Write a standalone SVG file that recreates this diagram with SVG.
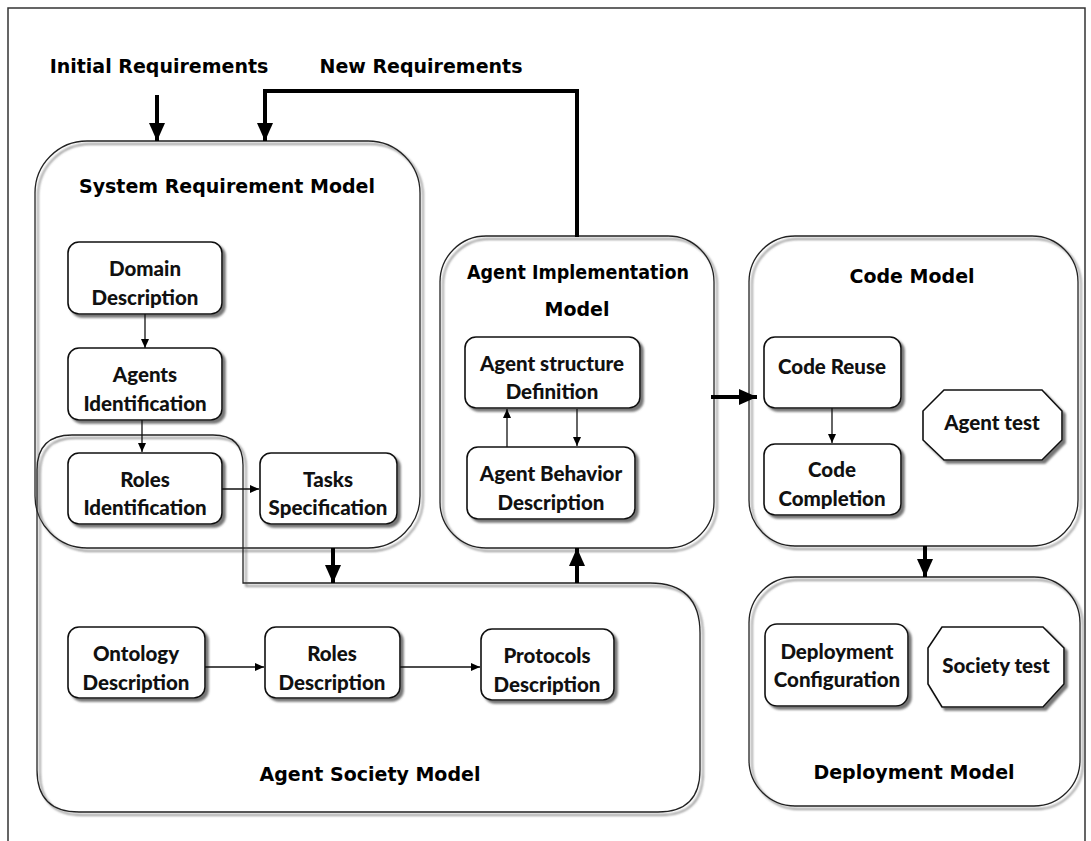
<svg xmlns="http://www.w3.org/2000/svg" width="1091" height="841" viewBox="0 0 1091 841">
<style>
.frame{fill:none;stroke:#333;stroke-width:1.5}
.cont{fill:none;stroke:#222;stroke-width:1.3;filter:url(#sh)}
.box{fill:#fff;stroke:#111;stroke-width:1.6;filter:url(#sh)}
.title{font-family:"Comic Sans MS","DejaVu Sans",sans-serif;font-weight:bold;font-size:19px;fill:#000;text-anchor:middle}
.lbl{font-family:Lato,"Liberation Sans",sans-serif;font-weight:900;font-size:20.5px;fill:#111;text-anchor:middle}
.thin{fill:none;stroke:#111;stroke-width:1.3}
.thick{fill:none;stroke:#000;stroke-width:4}
</style>
<defs>
<filter id="sh" x="-10%" y="-10%" width="125%" height="125%">
<feDropShadow dx="3" dy="3" stdDeviation="1" flood-color="#666" flood-opacity="0.9"/>
</filter>
<marker id="ah" markerWidth="10" markerHeight="10" refX="9" refY="5" orient="auto" markerUnits="userSpaceOnUse">
<path d="M0,1 L9,5 L0,9 Z" fill="#000"/>
</marker>
<marker id="ahb" markerWidth="20" markerHeight="20" refX="18" refY="10" orient="auto" markerUnits="userSpaceOnUse">
<path d="M0,2 L18,10 L0,18 Z" fill="#000"/>
</marker>
</defs>
<rect width="1091" height="841" fill="#fff"/>
<path class="frame" d="M8,841 V8 H1085 V841"/>

<text class="title" x="159" y="73" font-size="21">Initial Requirements</text>
<text class="title" x="421" y="73" font-size="21">New Requirements</text>

<g id="system-requirement-model">
<rect class="cont" x="35" y="141" width="385" height="407" rx="52"/>
<text class="title" x="227" y="193">System Requirement Model</text>
</g>
<g id="agent-society-model">
<path class="cont" d="M243,583 H650 Q700,583 700,633 V770 Q700,812 658,812 H79 Q37,812 37,770 V470 Q37,435 72,435 H213 Q243,435 243,465 Z"/>
<text class="title" x="370" y="781">Agent Society Model</text>
</g>
<g id="agent-implementation-model">
<rect class="cont" x="440" y="236" width="274" height="312" rx="46"/>
<text class="title" x="578" y="279" textLength="222" lengthAdjust="spacingAndGlyphs">Agent Implementation</text>
<text class="title" x="577" y="316">Model</text>
</g>
<g id="code-model">
<rect class="cont" x="749" y="236" width="329" height="310" rx="46"/>
<text class="title" x="912" y="283">Code Model</text>
</g>
<g id="deployment-model">
<rect class="cont" x="749" y="577" width="331" height="229" rx="46"/>
<text class="title" x="914" y="779">Deployment Model</text>
</g>

<g id="domain-description">
<rect class="box" x="68" y="242" width="154" height="72" rx="11"/>
<text class="lbl" x="145" y="276">Domain</text>
<text class="lbl" x="145" y="305">Description</text>
</g>
<g id="agents-identification">
<rect class="box" x="68" y="348" width="154" height="72" rx="11"/>
<text class="lbl" x="145" y="382">Agents</text>
<text class="lbl" x="145" y="411">Identification</text>
</g>
<g id="roles-identification">
<rect class="box" x="68" y="453" width="154" height="71" rx="11"/>
<text class="lbl" x="145" y="487">Roles</text>
<text class="lbl" x="145" y="515">Identification</text>
</g>
<g id="tasks-specification">
<rect class="box" x="260" y="453" width="137" height="71" rx="11"/>
<text class="lbl" x="328" y="487">Tasks</text>
<text class="lbl" x="328" y="515">Specification</text>
</g>
<g id="ontology-description">
<rect class="box" x="68" y="627" width="137" height="71" rx="11"/>
<text class="lbl" x="136" y="661">Ontology</text>
<text class="lbl" x="136" y="690">Description</text>
</g>
<g id="roles-description">
<rect class="box" x="265" y="627" width="135" height="71" rx="11"/>
<text class="lbl" x="332" y="661">Roles</text>
<text class="lbl" x="332" y="690">Description</text>
</g>
<g id="protocols-description">
<rect class="box" x="481" y="629" width="133" height="71" rx="11"/>
<text class="lbl" x="547" y="663">Protocols</text>
<text class="lbl" x="547" y="692">Description</text>
</g>
<g id="agent-structure-definition">
<rect class="box" x="465" y="337" width="175" height="71" rx="11"/>
<text class="lbl" x="552" y="371">Agent structure</text>
<text class="lbl" x="552" y="399">Definition</text>
</g>
<g id="agent-behavior-description">
<rect class="box" x="467" y="447" width="168" height="72" rx="11"/>
<text class="lbl" x="551" y="481">Agent Behavior</text>
<text class="lbl" x="551" y="510">Description</text>
</g>
<g id="code-reuse">
<rect class="box" x="764" y="337" width="137" height="71" rx="11"/>
<text class="lbl" x="832" y="374">Code Reuse</text>
</g>
<g id="code-completion">
<rect class="box" x="764" y="444" width="137" height="71" rx="11"/>
<text class="lbl" x="832" y="477">Code</text>
<text class="lbl" x="832" y="506">Completion</text>
</g>
<g id="agent-test">
<polygon class="box" points="944,390 1042,390 1062,411 1062,440 1042,460 944,460 923,440 923,411"/>
<text class="lbl" x="992" y="430">Agent test</text>
</g>
<g id="deployment-configuration">
<rect class="box" x="765" y="624" width="143" height="82" rx="12"/>
<text class="lbl" x="837" y="659">Deployment</text>
<text class="lbl" x="837" y="687">Configuration</text>
</g>
<g id="society-test">
<polygon class="box" points="942,627 1043,627 1064,648 1064,684 1043,707 942,707 928,684 928,648"/>
<text class="lbl" x="996" y="673">Society test</text>
</g>

<g id="connectors">
<path class="thick" d="M157,95 V141" marker-end="url(#ahb)"/>
<path class="thick" d="M577,237 V91 H265 V141" marker-end="url(#ahb)"/>
<path class="thin" d="M145,314 V348" marker-end="url(#ah)"/>
<path class="thin" d="M142,420 V452" marker-end="url(#ah)"/>
<path class="thin" d="M222,489 H259" marker-end="url(#ah)"/>
<path class="thick" d="M333,548 V583" marker-end="url(#ahb)"/>
<path class="thick" d="M577,583 V548" marker-end="url(#ahb)"/>
<path class="thin" d="M205,667 H264" marker-end="url(#ah)"/>
<path class="thin" d="M400,667 H480" marker-end="url(#ah)"/>
<path class="thin" d="M507,447 V409" marker-end="url(#ah)"/>
<path class="thin" d="M577,409 V446" marker-end="url(#ah)"/>
<path class="thick" d="M711,397 H757" marker-end="url(#ahb)"/>
<path class="thin" d="M832,408 V443" marker-end="url(#ah)"/>
<path class="thick" d="M925,546 V577" marker-end="url(#ahb)"/>
</g>
</svg>
